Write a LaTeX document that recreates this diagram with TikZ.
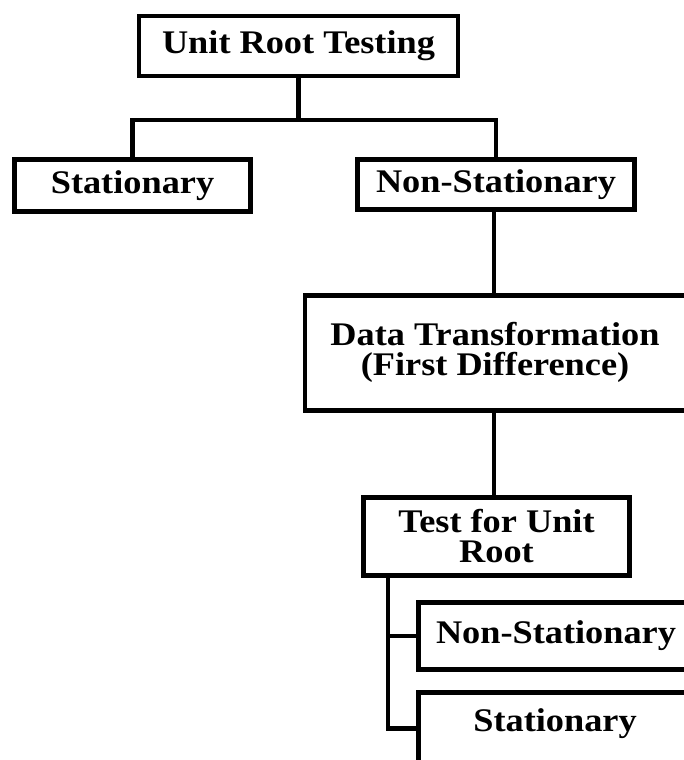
\documentclass[tikz,border=0pt]{standalone}
\usepackage{fontspec}
\setmainfont{Liberation Serif}[FakeStretch=1.10]
\begin{document}
\begin{tikzpicture}[x=1pt,y=-1pt,
  txt/.style={inner sep=0pt, align=center, font=\fontsize{33}{30}\selectfont\bfseries},
  box/.style={draw=black, line width=4.5pt, rectangle, txt},
  conn/.style={draw=black, line width=4.5pt}]
\useasboundingbox (0,0) rectangle (684,760);
\node[box, minimum width=319pt, minimum height=60pt] (urt) at (298.5,46) {Unit Root Testing};
\node[box, minimum width=236pt, minimum height=52pt] (stat1) at (132.5,185.5) {Stationary};
\node[box, minimum width=277pt, minimum height=50pt] (nons1) at (496,184.5) {Non-Stationary};
\node[box, minimum width=390pt, minimum height=115pt] (dt) at (500,353) {};
\node[txt] (dtt) at (495,352) {Data Transformation\\(First Difference)};
\node[box, minimum width=266pt, minimum height=78pt] (tur) at (496.5,536.5) {Test for Unit\\Root};
\node[box, minimum width=275pt, minimum height=67pt] (nons2) at (556,636) {Non-Stationary};
\node[box, minimum width=275pt, minimum height=72pt] (stat2) at (556,728.5) {};
\node[txt] (stat2t) at (555,724) {Stationary};
\coordinate (j1) at (298.5,120);
\coordinate (ax) at (494,0);
\coordinate (tx) at (388,0);
\draw[conn] (urt.south) -- (j1);
\draw[conn] (stat1.north) |- (j1) -| (nons1.north);
\draw[conn] (nons1.south -| ax) -- (dt.north -| ax);
\draw[conn] (dt.south -| ax) -- (tur.north -| ax);
\draw[conn] (tur.south -| tx) |- (nons2.west);
\draw[conn] (tur.south -| tx) |- (stat2.west);
\end{tikzpicture}
\end{document}
